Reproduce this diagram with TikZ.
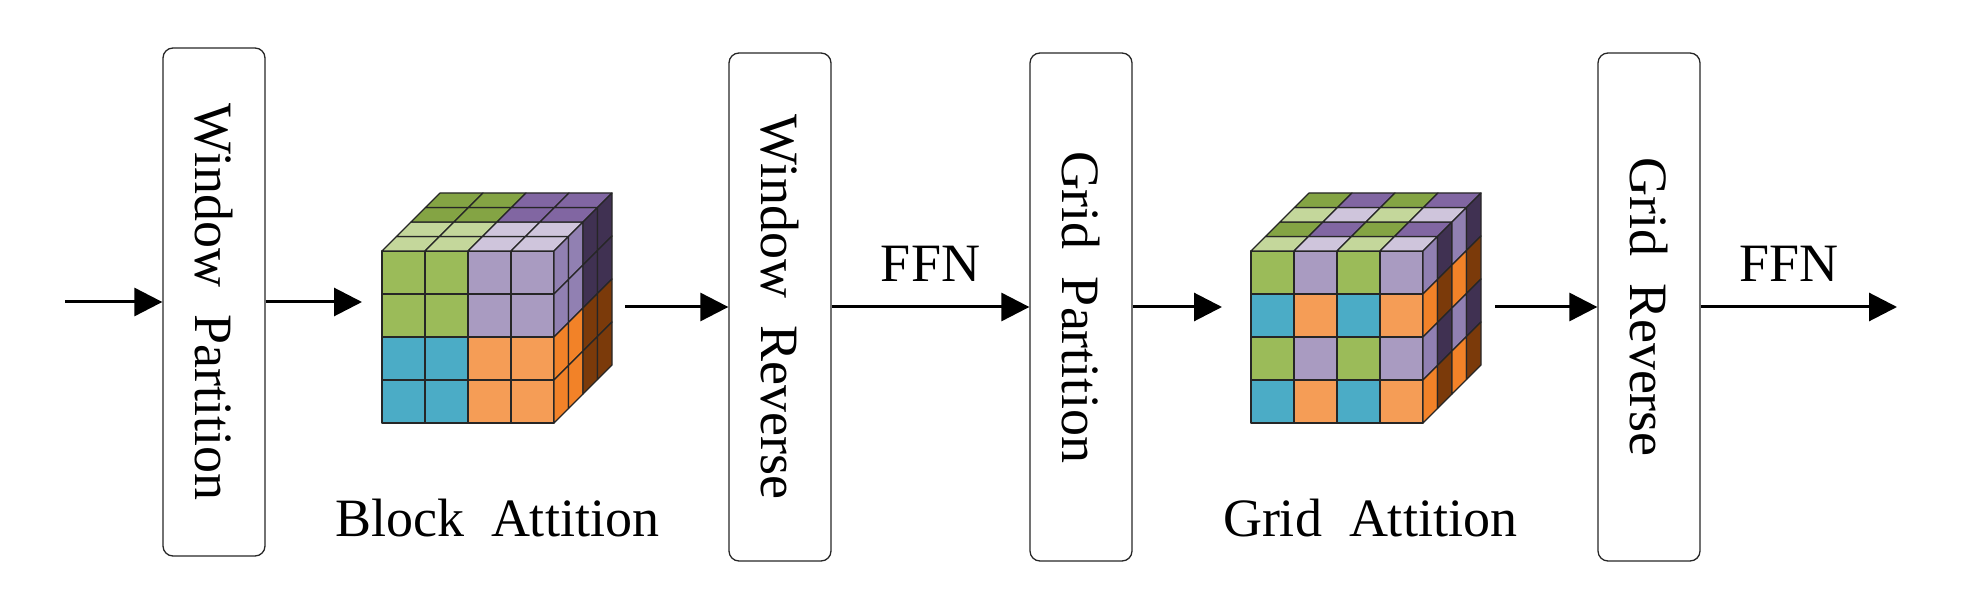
\documentclass[tikz,border=0pt]{standalone}
\usepackage{fontspec}
\setmainfont{Liberation Serif}
\usetikzlibrary{arrows.meta}
% front face colours (row idx, col idx)
\definecolor{cubeF00}{HTML}{9BBB59}
\definecolor{cubeF01}{HTML}{A99BC1}
\definecolor{cubeF10}{HTML}{4BACC6}
\definecolor{cubeF11}{HTML}{F59D56}
% top face colours (depth idx, col idx)
\definecolor{cubeT00}{HTML}{C4D79B}
\definecolor{cubeT01}{HTML}{CFC5DC}
\definecolor{cubeT10}{HTML}{84A444}
\definecolor{cubeT11}{HTML}{8166A2}
% right face colours (depth idx, row idx)
\definecolor{cubeR00}{HTML}{9180B2}
\definecolor{cubeR01}{HTML}{F28228}
\definecolor{cubeR10}{HTML}{403152}
\definecolor{cubeR11}{HTML}{7B3A0A}
\def\cubes{43}
\def\cubek{14.5}
\newcommand\drawmycube[3]{%
  \foreach \c in {0,...,3}{\foreach \r in {0,...,3}{%
    \pgfmathtruncatemacro\ci{#3==1 ? int(\c/2) : mod(\c,2)}%
    \pgfmathtruncatemacro\ri{#3==1 ? int(\r/2) : mod(\r,2)}%
    \filldraw[cubecell, fill=cubeF\ri\ci] ({#1+\c*\cubes},{#2+\r*\cubes}) rectangle ({#1+(\c+1)*\cubes},{#2+(\r+1)*\cubes});
  }}%
  \foreach \c in {0,...,3}{\foreach \d in {0,...,3}{%
    \pgfmathtruncatemacro\ci{#3==1 ? int(\c/2) : mod(\c,2)}%
    \pgfmathtruncatemacro\di{#3==1 ? int(\d/2) : mod(\d,2)}%
    \filldraw[cubecell, fill=cubeT\di\ci] ({#1+\c*\cubes+\d*\cubek},{#2-\d*\cubek}) -- ({#1+(\c+1)*\cubes+\d*\cubek},{#2-\d*\cubek}) -- ({#1+(\c+1)*\cubes+(\d+1)*\cubek},{#2-(\d+1)*\cubek}) -- ({#1+\c*\cubes+(\d+1)*\cubek},{#2-(\d+1)*\cubek}) -- cycle;
  }}%
  \foreach \d in {0,...,3}{\foreach \r in {0,...,3}{%
    \pgfmathtruncatemacro\di{#3==1 ? int(\d/2) : mod(\d,2)}%
    \pgfmathtruncatemacro\ri{#3==1 ? int(\r/2) : mod(\r,2)}%
    \filldraw[cubecell, fill=cubeR\di\ri] ({#1+4*\cubes+\d*\cubek},{#2+\r*\cubes-\d*\cubek}) -- ({#1+4*\cubes+(\d+1)*\cubek},{#2+\r*\cubes-(\d+1)*\cubek}) -- ({#1+4*\cubes+(\d+1)*\cubek},{#2+(\r+1)*\cubes-(\d+1)*\cubek}) -- ({#1+4*\cubes+\d*\cubek},{#2+(\r+1)*\cubes-\d*\cubek}) -- cycle;
  }}%
}
\begin{document}
\begin{tikzpicture}[x=1pt,y=-1pt,
  cubecell/.style={draw=black!85, line width=1.2pt, line join=round},
  stagebox/.style={draw=black!85, line width=1.3pt, rounded corners=10pt, minimum width=102pt, minimum height=508pt, inner sep=0pt, font=\fontsize{54}{60}\selectfont},
  flow/.style={line width=3pt, -{Triangle[length=28pt,width=28pt]}},
  lab/.style={font=\fontsize{54}{60}\selectfont, inner sep=0pt}]
\useasboundingbox (0,0) rectangle (1970,609);
% stage boxes
\node[stagebox] (b1) at (214,302) {\rotatebox{-90}{Window~~Partition}};
\node[stagebox] (b2) at (780,307) {\rotatebox{-90}{Window~~Reverse}};
\node[stagebox] (b3) at (1081,307) {\rotatebox{-90}{Grid~~Partition}};
\node[stagebox] (b4) at (1649,307) {\rotatebox{-90}{Grid~~Reverse}};
% cubes
\drawmycube{382}{251}{1}
\drawmycube{1251}{251}{2}
\node[lab, anchor=base] (l1) at (497,536) {Block~~Attition};
\node[lab, anchor=base] (l2) at (1370,536) {Grid~~Attition};
% connector ends
\coordinate (start) at (65,302);
\coordinate (c1in) at (362,302);
\coordinate (c1out) at (625,307);
\coordinate (c2in) at (1222,307);
\coordinate (c2out) at (1495,307);
\coordinate (stop) at (1897,307);
% connectors
\draw[flow] (start) -- (b1.west);
\draw[flow] (b1.east) -- (c1in);
\draw[flow] (c1out) -- (b2.west);
\draw[flow] (b2.east) -- node[lab, midway, above=24pt] (f1) {FFN} (b3.west);
\draw[flow] (b3.east) -- (c2in);
\draw[flow] (c2out) -- (b4.west);
\draw[flow] (b4.east) -- node[lab, pos=0.45, above=24pt] (f2) {FFN} (stop);
\end{tikzpicture}
\end{document}
